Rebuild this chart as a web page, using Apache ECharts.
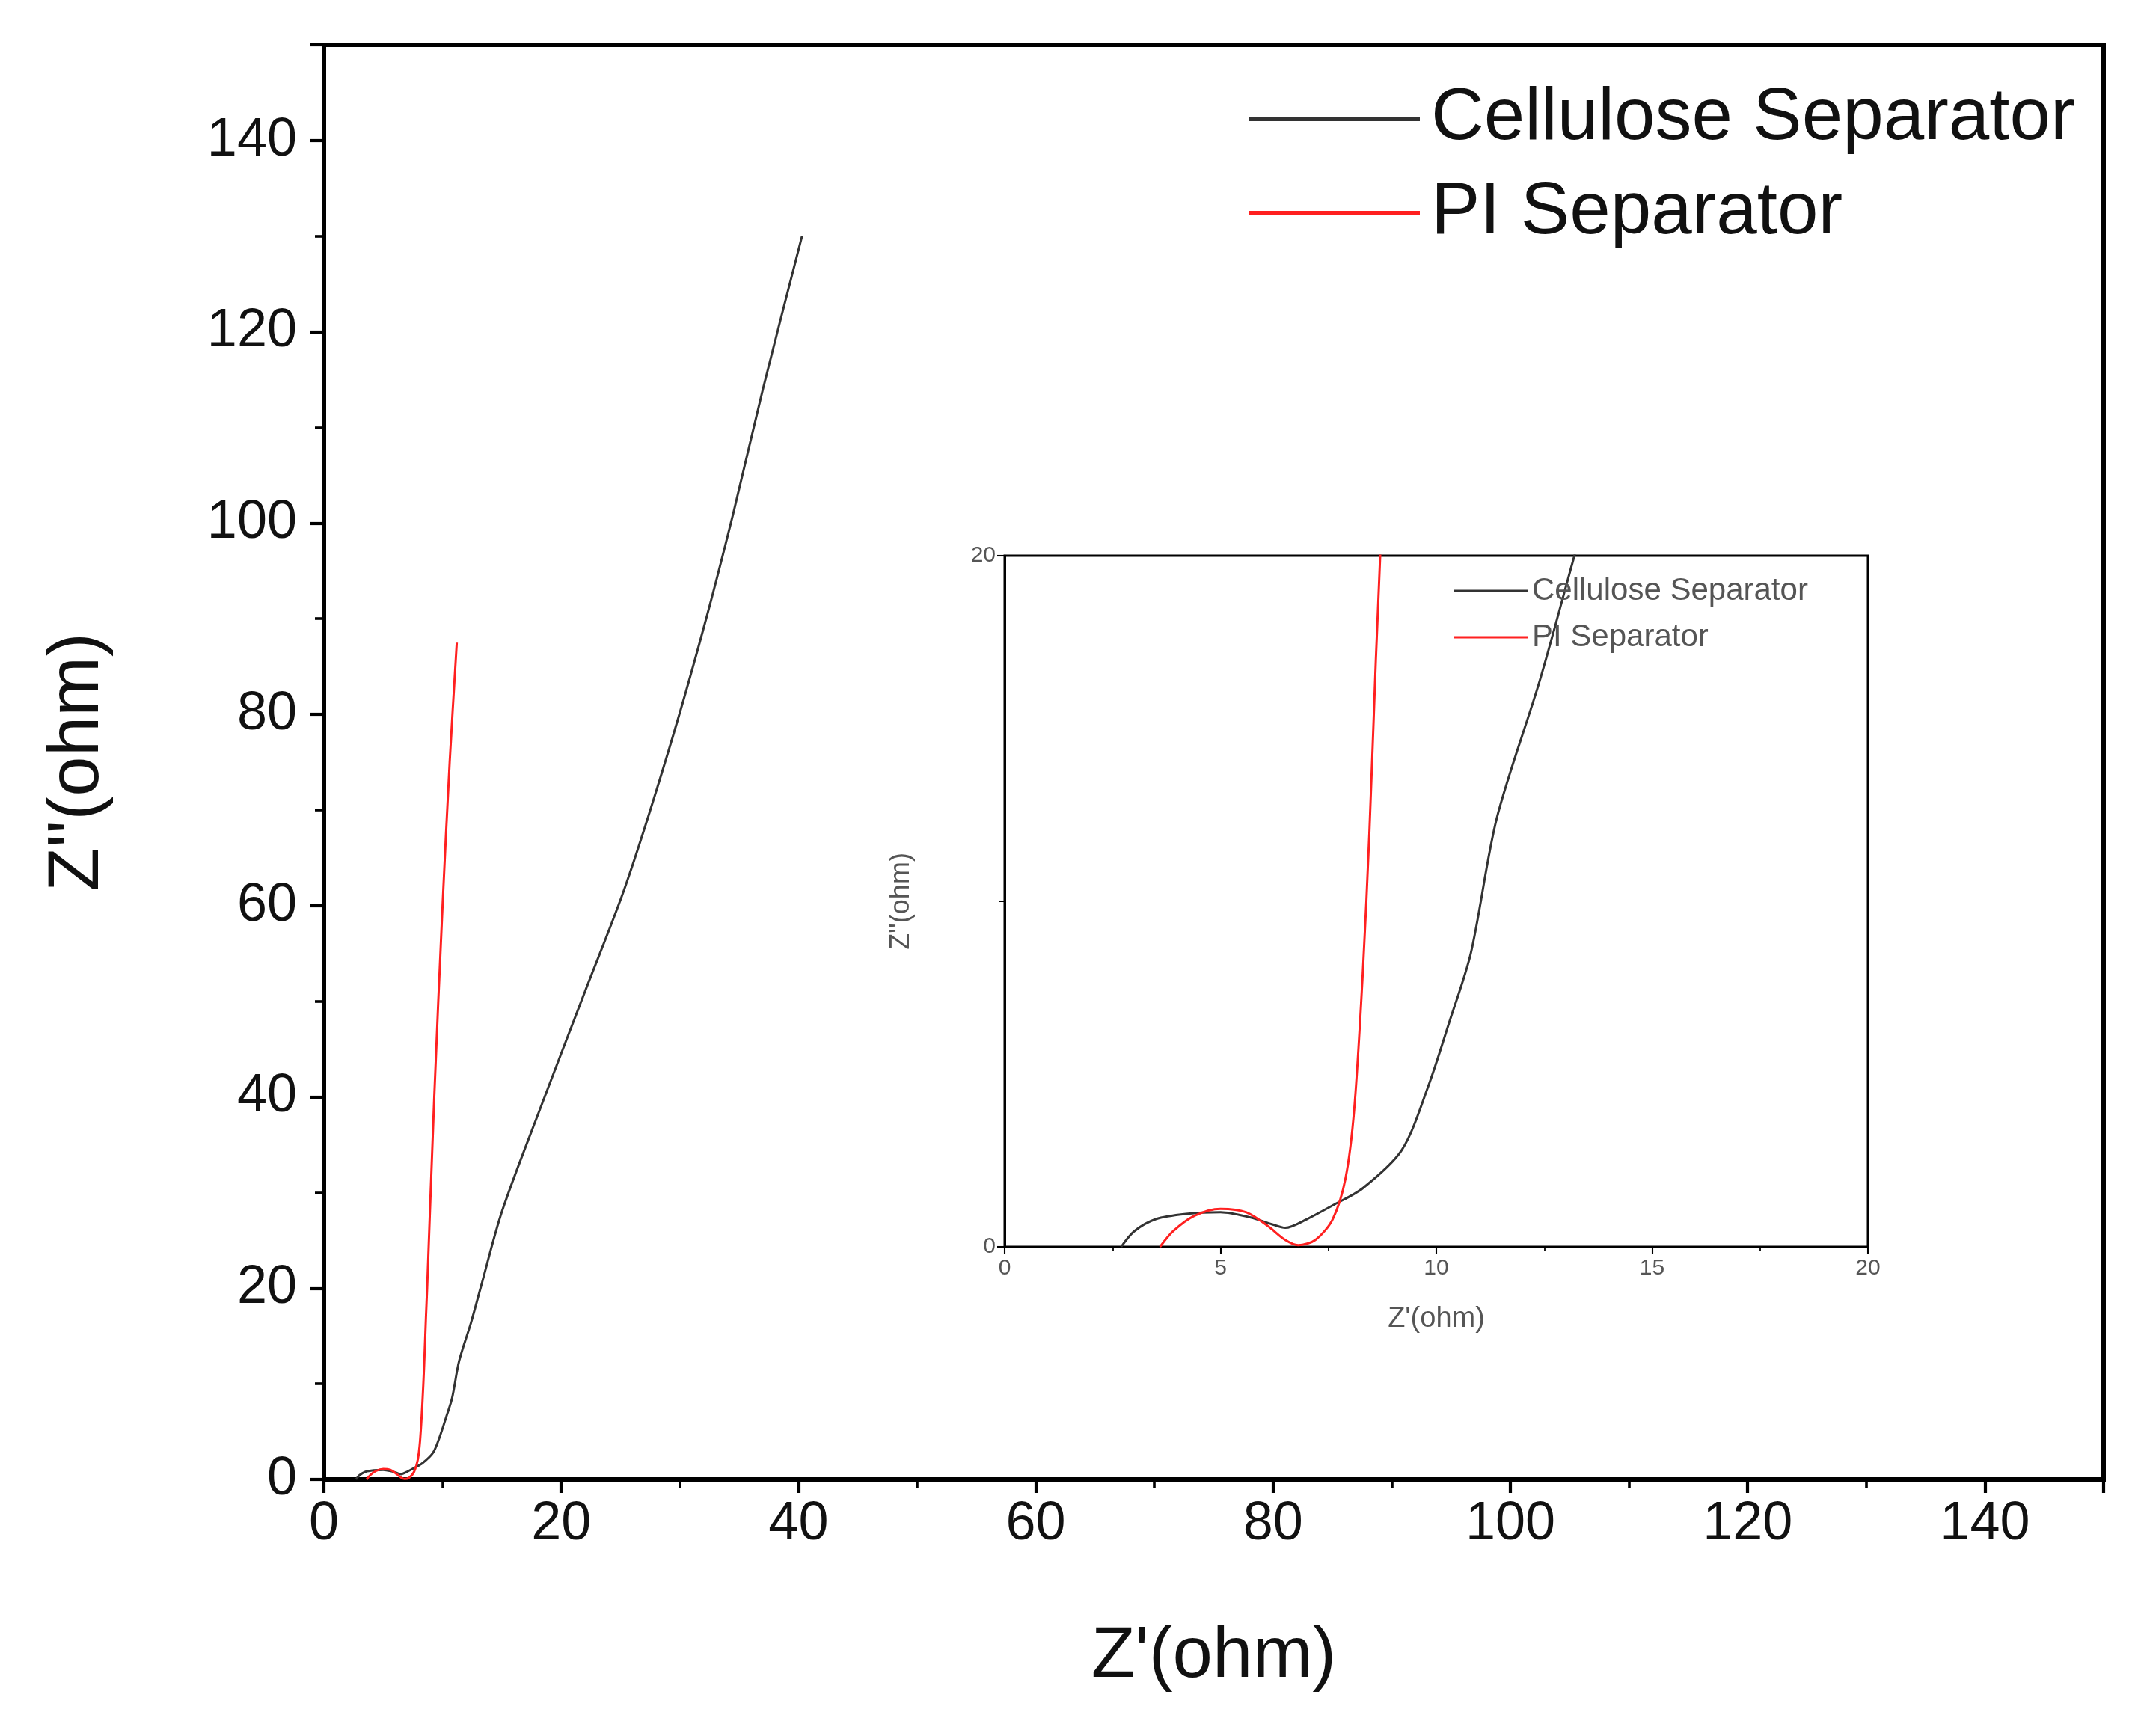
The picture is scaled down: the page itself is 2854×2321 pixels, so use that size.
<!DOCTYPE html>
<html><head><meta charset="utf-8">
<script src="https://cdn.jsdelivr.net/npm/echarts@6/dist/echarts.min.js"></script>
<style>html,body{margin:0;background:#fff}#c{width:2854px;height:2321px}</style>
</head><body><div id="c"></div>
<script>
const seriesNames = ['Cellulose Separator', 'PI Separator'];
const cellulose = [[2.7,0],[3.0,0.45],[3.5,0.8],[4.2,0.95],[5,1.0],[5.7,0.85],[6.2,0.65],[6.5,0.55],[7.0,0.8],[7.6,1.2],[8.3,1.7],[9.2,2.8],[9.8,4.6],[10.3,6.5],[10.8,8.5],[11.4,12.4],[12.4,16.4],[13.2,20],[15,28],[18.3,39],[22,51],[25.4,62],[29,76],[32,89],[34.5,101],[37,114],[40.3,130]];
const pi = [[3.6,0],[3.9,0.45],[4.4,0.9],[5,1.1],[5.6,1.0],[6.1,0.6],[6.5,0.2],[6.8,0.05],[7.2,0.2],[7.6,0.8],[7.9,2],[8.1,4],[8.3,8],[8.45,12],[8.6,17],[8.7,20],[9.3,40],[10.0,60],[10.6,75],[11.2,87.5]];
const mainXTicks = [0,20,40,60,80,100,120,140];
const insetXTicks = [0,5,10,15,20];

const font = 'Liberation Sans, Arial, sans-serif';
const colors = ['#333333', '#ff2020'];
function axisBase(fs, tickLen, minorLen, lw){
  return {
    axisLine:{show:true,onZero:false,lineStyle:{color:'#000',width:lw}},
    axisTick:{show:true,inside:false,length:tickLen,lineStyle:{color:'#000',width:lw*0.7}},
    minorTick:{show:true,splitNumber:2,length:minorLen,lineStyle:{color:'#000',width:lw*0.6}},
    splitLine:{show:false},
    axisLabel:{fontSize:fs,color:'#111',fontFamily:font,margin:fs*0.5},
    nameTextStyle:{fontFamily:font,color:'#111'}
  };
}
const chart = echarts.init(document.getElementById('c'));
const mk = (idx, data, gi, lw) => ({
  name: seriesNames[idx], type:'line', data: data, xAxisIndex: gi, yAxisIndex: gi,
  showSymbol:false, smooth:0.3, clip:true,
  lineStyle:{color:colors[idx], width:lw}, itemStyle:{color:colors[idx]}
});
chart.setOption({
  animation:false,
  backgroundColor:'#fff',
  grid:[
    {left:433, top:60, width:2379, height:1918, show:true, borderColor:'#000', borderWidth:6},
    {left:1343, top:743, width:1154, height:924, show:true, borderColor:'#000', borderWidth:3, backgroundColor:'#fff'}
  ],
  legend:[
    {left:1665, top:105, orient:'vertical', itemWidth:228, itemHeight:6, itemGap:28,
     data:seriesNames, textStyle:{fontSize:98, fontFamily:font, color:'#111', padding:[0,0,0,10]},
     icon:'rect'},
    {left:1938, top:764, orient:'vertical', itemWidth:100, itemHeight:3, itemGap:20,
     data:seriesNames, textStyle:{fontSize:42, fontFamily:font, color:'#555', padding:[0,0,0,0]},
     icon:'rect'}
  ],
  xAxis:[
    Object.assign(axisBase(72,18,12,6),{type:'value',gridIndex:0,min:0,max:150,interval:20,
      name:"Z'(ohm)",nameLocation:'middle',nameGap:190,
      nameTextStyle:{fontSize:96,fontFamily:font,color:'#111'},
      axisLabel:{fontSize:72,color:'#111',fontFamily:font,margin:24,
        formatter:v=>mainXTicks.includes(v)?String(v):''}}),
    Object.assign(axisBase(30,10,6,3),{type:'value',gridIndex:1,min:0,max:20,interval:5,
      name:"Z'(ohm)",nameLocation:'middle',nameGap:78,
      nameTextStyle:{fontSize:38,fontFamily:font,color:'#555'},
      axisLabel:{fontSize:30,color:'#555',fontFamily:font,margin:14,
        formatter:v=>insetXTicks.includes(v)?String(v):''}})
  ],
  yAxis:[
    Object.assign(axisBase(72,18,12,6),{type:'value',gridIndex:0,min:0,max:150,interval:20,
      name:"Z''(ohm)",nameLocation:'middle',nameGap:280,
      nameTextStyle:{fontSize:96,fontFamily:font,color:'#111'},
      axisLabel:{fontSize:72,color:'#111',fontFamily:font,margin:36,
        formatter:v=>v<=140?String(v):''}}),
    Object.assign(axisBase(30,10,6,3),{type:'value',gridIndex:1,min:0,max:20,interval:20,
      name:"Z''(ohm)",nameLocation:'middle',nameGap:120,
      nameTextStyle:{fontSize:36,fontFamily:font,color:'#555'},
      minorTick:{show:true,splitNumber:2,length:8,lineStyle:{color:'#000',width:2}},
      axisLabel:{fontSize:30,color:'#555',fontFamily:font,margin:12}})
  ],
  series:[
    mk(0,cellulose,0,3), mk(1,pi,0,3),
    mk(0,cellulose,1,3), mk(1,pi,1,3)
  ]
});
</script></body></html>
